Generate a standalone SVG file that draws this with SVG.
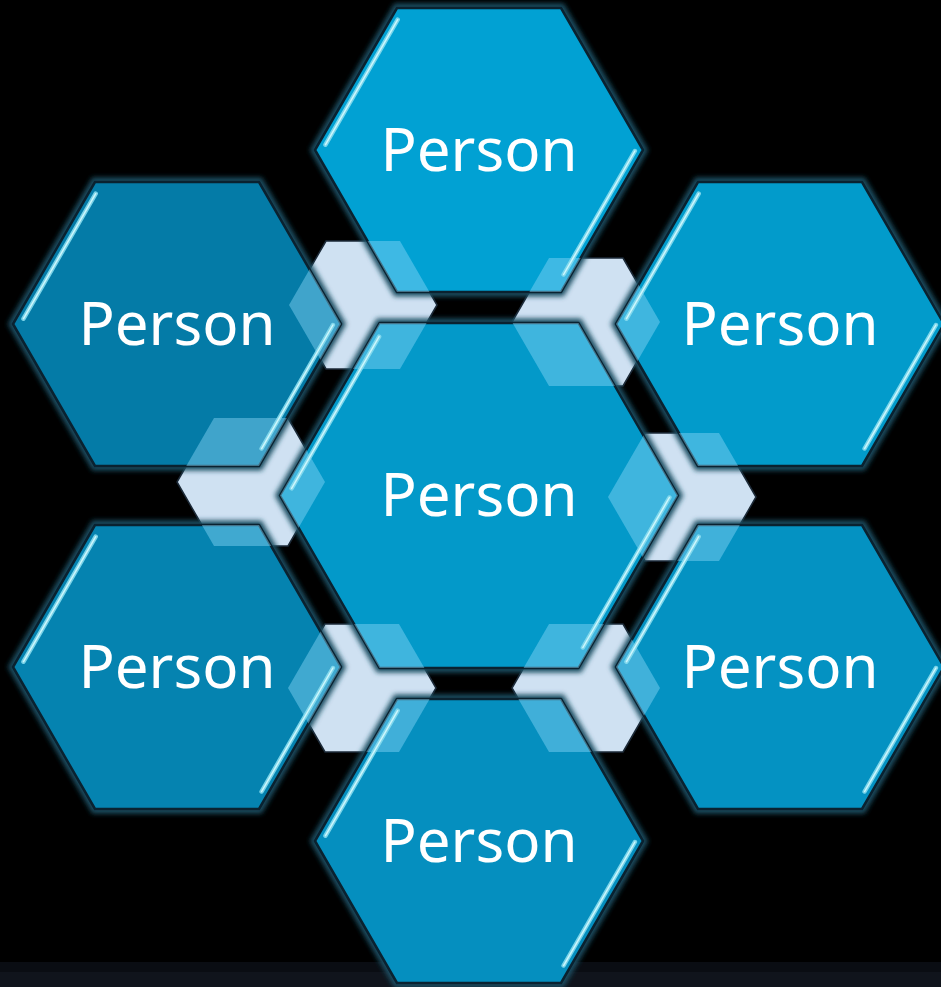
<svg xmlns="http://www.w3.org/2000/svg" width="941" height="987" viewBox="0 0 941 987">
<style>
.halo{fill:none;stroke:#1a4f63;stroke-width:9;filter:url(#blur)}
.edge{stroke:#0a2230;stroke-width:2.5;stroke-linejoin:round}
.ghost{fill:#8ad8f8;opacity:.45}
.stripe{fill:none;stroke:#86dcee;stroke-width:4.5;stroke-linecap:round;opacity:.9}
.core{fill:none;stroke:#d6fafe;stroke-width:1.5;stroke-linecap:round;opacity:.9}
.label{font-family:"Noto Sans","Open Sans","DejaVu Sans",sans-serif;font-size:60px;fill:#fff;text-anchor:middle}
.conn{fill:#cfe1f2;stroke:#1c2a38;stroke-width:1.5;stroke-linejoin:round}
</style>
<defs>
<filter id="blur" x="-10%" y="-10%" width="120%" height="120%"><feGaussianBlur stdDeviation="2.5"/></filter>
<polygon id="hexO" points="-164,0 -82,-142 82,-142 164,0 82,142 -82,142"/>
<polygon id="hexC" points="-199,0 -99.5,-172.5 99.5,-172.5 199,0 99.5,172.5 -99.5,172.5"/>
<path id="stripeO" d="M-81.3,-130.3 L-153.5,-5.3 M155.9,1 L84.6,124.5"/>
<path id="stripeC" d="M-99.9,-158.9 L-187.4,-7.1 M190.4,2 L103.9,152"/>
<g id="ghostShapes" class="ghost">
<polygon points="289,305 326,241 400,241 437,305 400,369 326,369"/>
<polygon points="512,322 549,258 623,258 660,322 623,386 549,386"/>
<polygon points="177,482 214,418 288,418 325,482 288,546 214,546"/>
<polygon points="608,497 645,433 719,433 756,497 719,561 645,561"/>
<polygon points="288,688 325,624 399,624 436,688 399,752 325,752"/>
<polygon points="512,688 549,624 623,624 660,688 623,752 549,752"/>
</g>
<clipPath id="clipT"><use href="#hexO" transform="translate(479,150)"/></clipPath>
<clipPath id="clipTR"><use href="#hexO" transform="translate(780,324)"/></clipPath>
<clipPath id="clipTL"><use href="#hexO" transform="translate(177,324)"/></clipPath>
<clipPath id="clipBL"><use href="#hexO" transform="translate(177,667)"/></clipPath>
<clipPath id="clipBR"><use href="#hexO" transform="translate(780,667)"/></clipPath>
<clipPath id="clipB"><use href="#hexO" transform="translate(479,841)"/></clipPath>
<clipPath id="clipC"><use href="#hexC" transform="translate(479,495.5)"/></clipPath>
</defs>

<rect width="941" height="987" fill="#000"/>
<rect y="962" width="941" height="10" fill="#0a0d13"/>
<rect y="972" width="941" height="15" fill="#10141c"/>

<g id="connectors">
<polygon id="conn-tl" class="conn" points="289,305 326,241 400,241 437,305 400,369 326,369"/>
<polygon id="conn-tr" class="conn" points="512,322 549,258 623,258 660,322 623,386 549,386"/>
<polygon id="conn-ml" class="conn" points="177,482 214,418 288,418 325,482 288,546 214,546"/>
<polygon id="conn-mr" class="conn" points="608,497 645,433 719,433 756,497 719,561 645,561"/>
<polygon id="conn-bl" class="conn" points="288,688 325,624 399,624 436,688 399,752 325,752"/>
<polygon id="conn-br" class="conn" points="512,688 549,624 623,624 660,688 623,752 549,752"/>
</g>

<g id="node-center">
<use href="#hexC" class="halo" transform="translate(479,495.5)"/>
<use href="#hexC" class="edge" fill="#0399c9" transform="translate(479,495.5)"/>
<use href="#ghostShapes" clip-path="url(#clipC)"/>
<use href="#stripeC" class="stripe" transform="translate(479,495.5)"/>
<use href="#stripeC" class="core" transform="translate(479,495.5)"/>
<text class="label" x="479" y="516">Person</text>
</g>

<g id="node-top">
<use href="#hexO" class="halo" transform="translate(479,150)"/>
<use href="#hexO" class="edge" fill="#01a1d3" transform="translate(479,150)"/>
<use href="#ghostShapes" clip-path="url(#clipT)"/>
<use href="#stripeO" class="stripe" transform="translate(479,150)"/>
<use href="#stripeO" class="core" transform="translate(479,150)"/>
<text class="label" x="479" y="171">Person</text>
</g>

<g id="node-top-right">
<use href="#hexO" class="halo" transform="translate(780,324)"/>
<use href="#hexO" class="edge" fill="#029bcb" transform="translate(780,324)"/>
<use href="#ghostShapes" clip-path="url(#clipTR)"/>
<use href="#stripeO" class="stripe" transform="translate(780,324)"/>
<use href="#stripeO" class="core" transform="translate(780,324)"/>
<text class="label" x="780" y="345">Person</text>
</g>

<g id="node-bottom-right">
<use href="#hexO" class="halo" transform="translate(780,667)"/>
<use href="#hexO" class="edge" fill="#0492c2" transform="translate(780,667)"/>
<use href="#ghostShapes" clip-path="url(#clipBR)"/>
<use href="#stripeO" class="stripe" transform="translate(780,667)"/>
<use href="#stripeO" class="core" transform="translate(780,667)"/>
<text class="label" x="780" y="688">Person</text>
</g>

<g id="node-bottom">
<use href="#hexO" class="halo" transform="translate(479,841)"/>
<use href="#hexO" class="edge" fill="#058fbf" transform="translate(479,841)"/>
<use href="#ghostShapes" clip-path="url(#clipB)"/>
<use href="#stripeO" class="stripe" transform="translate(479,841)"/>
<use href="#stripeO" class="core" transform="translate(479,841)"/>
<text class="label" x="479" y="862">Person</text>
</g>

<g id="node-bottom-left">
<use href="#hexO" class="halo" transform="translate(177,667)"/>
<use href="#hexO" class="edge" fill="#0583b0" transform="translate(177,667)"/>
<use href="#ghostShapes" clip-path="url(#clipBL)"/>
<use href="#stripeO" class="stripe" transform="translate(177,667)"/>
<use href="#stripeO" class="core" transform="translate(177,667)"/>
<text class="label" x="177" y="688">Person</text>
</g>

<g id="node-top-left">
<use href="#hexO" class="halo" transform="translate(177,324)"/>
<use href="#hexO" class="edge" fill="#047ba7" transform="translate(177,324)"/>
<use href="#ghostShapes" clip-path="url(#clipTL)"/>
<use href="#stripeO" class="stripe" transform="translate(177,324)"/>
<use href="#stripeO" class="core" transform="translate(177,324)"/>
<text class="label" x="177" y="345">Person</text>
</g>
</svg>
